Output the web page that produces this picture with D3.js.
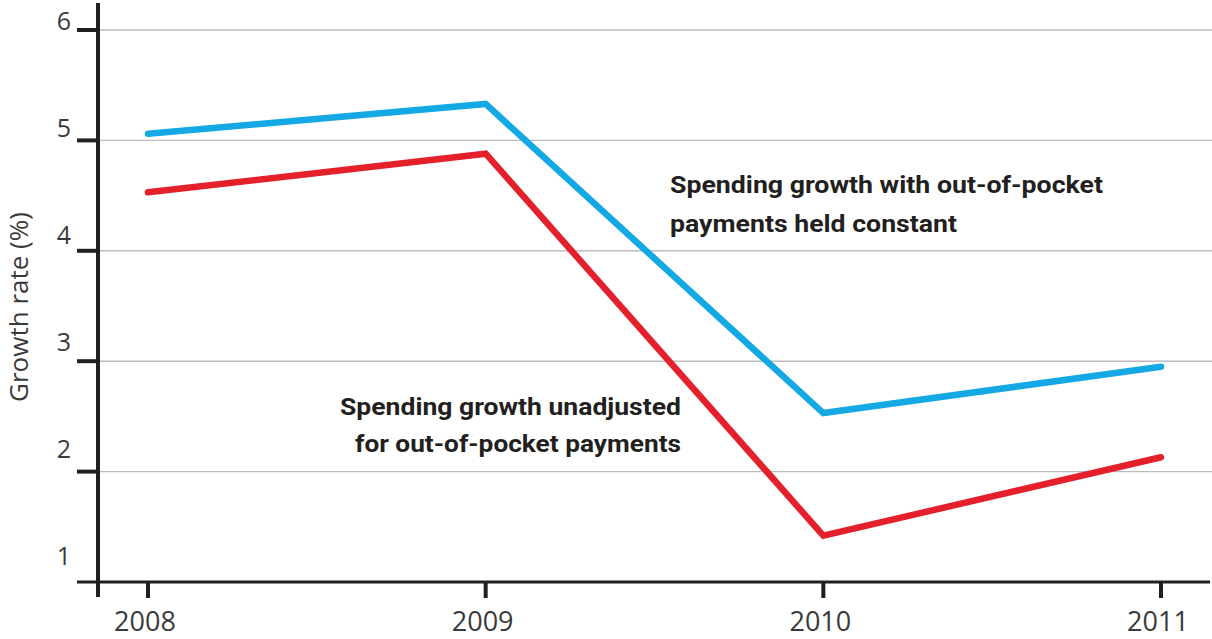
<!DOCTYPE html>
<html>
<head>
<meta charset="utf-8">
<script src="https://cdn.jsdelivr.net/npm/d3@7"></script>
<style>
  html, body { margin: 0; padding: 0; background: #fff; }
  svg { display: block; }
</style>
</head>
<body>
<svg id="chart" width="1212" height="639"></svg>
<script>
// Health spending growth, %
const years = [2008, 2009, 2010, 2011];
const heldConstant = [5.06, 5.33, 2.53, 2.95];
const unadjusted = [4.53, 4.88, 1.42, 2.13];
const yTicks = [1, 2, 3, 4, 5, 6];
const gridValues = [2, 3, 4, 5, 6];
const yTitle = "Growth rate (%)";
const noteConstant = ["Spending growth with out-of-pocket", "payments held constant"];
const noteUnadjusted = ["Spending growth unadjusted", "for out-of-pocket payments"];

const svg = d3.select("#chart");
const W = 1212;

const x = d3.scaleLinear().domain([2008, 2011]).range([148, 1161]);
const y = d3.scaleLinear().domain([1, 6]).range([582, 30]);
// tick numerals sit slightly above their tick marks
const yLabel = d3.scaleLinear().domain([1, 6]).range([565, 30]);

const axisFont = "'Open Sans', 'Noto Sans', sans-serif";
const noteFont = "Roboto, 'Open Sans', sans-serif";

// horizontal gridlines
svg.append("g")
  .selectAll("line")
  .data(gridValues)
  .join("line")
  .attr("x1", 100).attr("x2", W)
  .attr("y1", d => y(d)).attr("y2", d => y(d))
  .attr("stroke", "#bcbcbc")
  .attr("stroke-width", 1.4);

// series lines
const line = d3.line()
  .x((d, i) => x(years[i]))
  .y(d => y(d));

const series = [
  { values: heldConstant, color: "#14a9e4" },
  { values: unadjusted, color: "#e4202b" }
];

svg.append("g")
  .selectAll("path")
  .data(series)
  .join("path")
  .attr("d", d => line(d.values))
  .attr("fill", "none")
  .attr("stroke", d => d.color)
  .attr("stroke-width", 6.5)
  .attr("stroke-linejoin", "miter")
  .attr("stroke-linecap", "round");

// x axis
const xAxis = svg.append("g");
xAxis.append("line")
  .attr("x1", 77).attr("x2", 1210)
  .attr("y1", y(1)).attr("y2", y(1))
  .attr("stroke", "#231f20").attr("stroke-width", 3);
xAxis.selectAll("line.tick")
  .data(years)
  .join("line")
  .attr("class", "tick")
  .attr("x1", d => x(d)).attr("x2", d => x(d))
  .attr("y1", y(1)).attr("y2", y(1) + 16)
  .attr("stroke", "#231f20").attr("stroke-width", 4);
xAxis.selectAll("text")
  .data(years)
  .join("text")
  .attr("x", d => x(d) - 3)
  .attr("y", 631)
  .attr("text-anchor", "middle")
  .attr("font-family", axisFont)
  .attr("font-size", 27)
  .attr("fill", "#3a3a3a")
  .text(d => d);

// y axis
const yAxis = svg.append("g");
yAxis.append("line")
  .attr("x1", 98).attr("x2", 98)
  .attr("y1", 3).attr("y2", 597)
  .attr("stroke", "#231f20").attr("stroke-width", 4);
yAxis.selectAll("line.tick")
  .data(gridValues)
  .join("line")
  .attr("class", "tick")
  .attr("x1", 77).attr("x2", 98)
  .attr("y1", d => y(d)).attr("y2", d => y(d))
  .attr("stroke", "#231f20").attr("stroke-width", 4);
yAxis.selectAll("text")
  .data(yTicks)
  .join("text")
  .attr("x", 71)
  .attr("y", d => yLabel(d))
  .attr("text-anchor", "end")
  .attr("font-family", axisFont)
  .attr("font-size", 25)
  .attr("fill", "#3a3a3a")
  .text(d => d);

svg.append("text")
  .attr("transform", "translate(28,307) rotate(-90)")
  .attr("text-anchor", "middle")
  .attr("font-family", axisFont)
  .attr("font-size", 26)
  .attr("fill", "#3a3a3a")
  .text(yTitle);

// annotations
const noteA = svg.append("text")
  .attr("font-family", noteFont)
  .attr("font-weight", 700)
  .attr("font-size", 23)
  .attr("fill", "#231f20");
const widthsA = [433, 287];
noteConstant.forEach((t, i) => {
  noteA.append("tspan")
    .attr("x", 670).attr("y", 193 + i * 39)
    .attr("textLength", widthsA[i])
    .attr("lengthAdjust", "spacingAndGlyphs")
    .text(t);
});

const noteB = svg.append("text")
  .attr("font-family", noteFont)
  .attr("font-weight", 700)
  .attr("font-size", 23)
  .attr("fill", "#231f20");
const widthsB = [341, 326];
noteUnadjusted.forEach((t, i) => {
  noteB.append("tspan")
    .attr("x", 681 - widthsB[i]).attr("y", 415 + i * 37)
    .attr("textLength", widthsB[i])
    .attr("lengthAdjust", "spacingAndGlyphs")
    .text(t);
});
</script>
</body>
</html>
